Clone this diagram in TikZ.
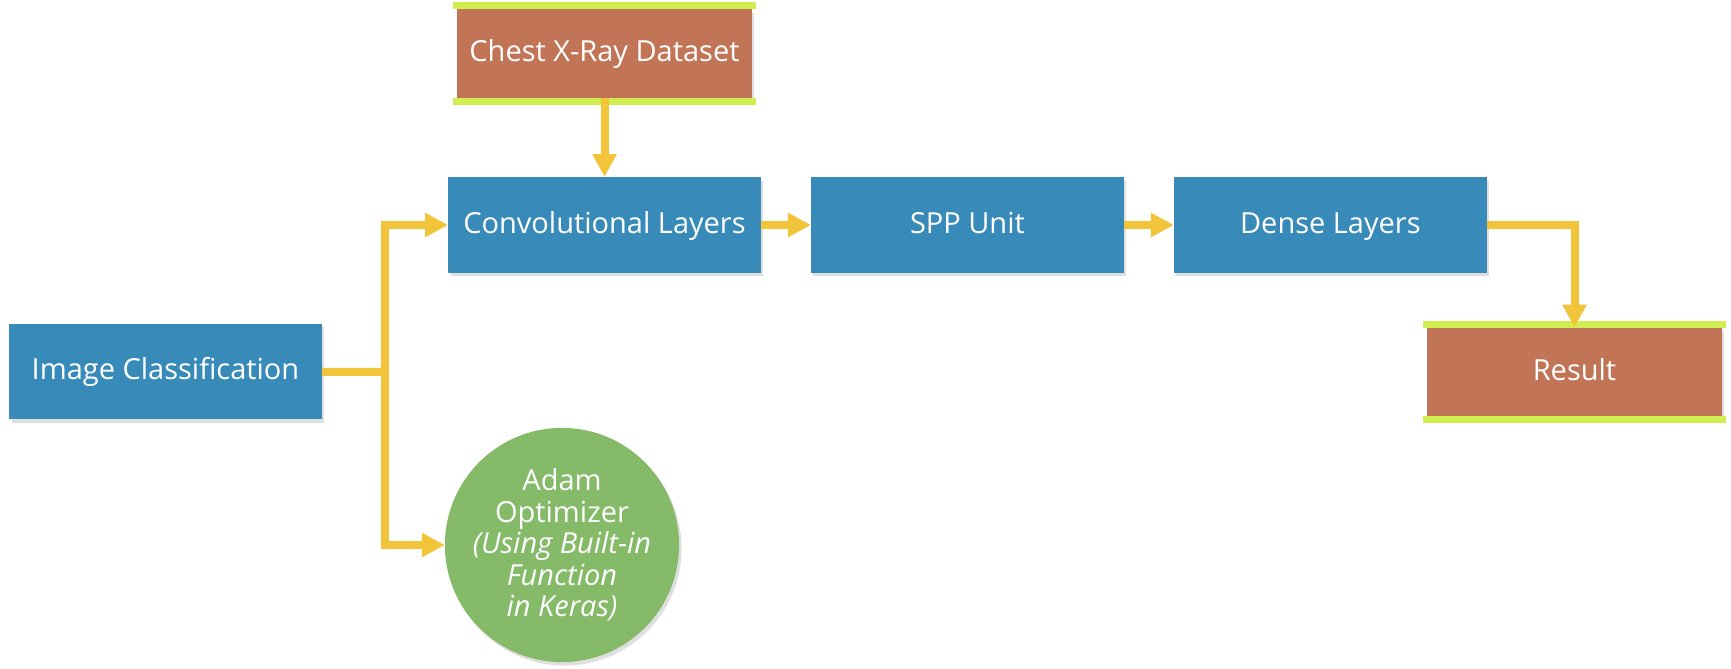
\documentclass[tikz,border=0pt]{standalone}
\usepackage{fontspec}
\setmainfont{Open Sans}
\usetikzlibrary{arrows.meta, positioning, shadows}
\definecolor{boxblue}{RGB}{56,138,185}
\definecolor{boxbrown}{RGB}{193,117,86}
\definecolor{barlime}{RGB}{208,238,80}
\definecolor{flowgold}{RGB}{242,196,58}
\definecolor{roundgreen}{RGB}{132,186,104}

\begin{document}
\begin{tikzpicture}[
	x=0.02cm, y=-0.02cm,
	node distance=1cm,
	every node/.style = {text=white, font=\fontsize{16.5}{18}\selectfont, align=center, inner sep=0mm, outer sep=0mm},
	shade/.style = {drop shadow={shadow xshift=0.05cm, shadow yshift=-0.07cm, opacity=0.25}},
	blk/.style = {shape=rectangle, fill=boxblue, minimum width=6.26cm, minimum height=1.92cm, text height=0.36cm, text depth=0.04cm, shade},
	data/.style = {shape=rectangle, fill=boxbrown, minimum width=5.9cm, minimum height=1.78cm, text height=0.36cm, text depth=0.04cm, shade},
	opt/.style = {shape=circle, fill=roundgreen, minimum size=4.58cm, shade},
	bar/.style = {draw=barlime, line width=0.14cm},
	flowline/.style = {draw=flowgold, line width=0.16cm},
	flow/.style = {flowline, -{Triangle[length=0.46cm, width=0.46cm]}},
	]
\useasboundingbox (0,0) rectangle (1731,669);
% main row
\node[blk] (conv) at (604.5,225) {Convolutional Layers};
\node[blk] (spp) [right=of conv] {SPP Unit};
\node[blk] (dense) [right=of spp] {Dense Layers};
\node[data] (chest) [above=1.58cm of conv] {Chest X-Ray Dataset};
\node[blk] (imgc) at (165.5,371.5) {Image Classification};
\node[data] (res) at (1574.5,372) {Result};
\node[opt] (adam) at (562,545) {Adam\\Optimizer\\\textit{(Using Built-in}\\\textit{Function}\\\textit{in Keras)}};
% lime bars on the brown boxes
\foreach \n in {chest, res} {
	\draw[bar] ([xshift=-0.08cm, yshift=0.07cm]\n.north west) -- ([xshift=0.08cm, yshift=0.07cm]\n.north east);
	\draw[bar] ([xshift=-0.08cm, yshift=-0.07cm]\n.south west) -- ([xshift=0.08cm, yshift=-0.07cm]\n.south east);
}
% connectors
\coordinate (fork) at (385,372);
\draw[flow] (chest) -- (conv);
\draw[flowline] (imgc) -- (fork);
\draw[flow] (fork) |- (conv);
\draw[flow] (fork) |- (adam);
\draw[flow] (conv) -- (spp);
\draw[flow] (spp) -- (dense);
\draw[flow] (dense) -| (res);
\end{tikzpicture}
\end{document}
